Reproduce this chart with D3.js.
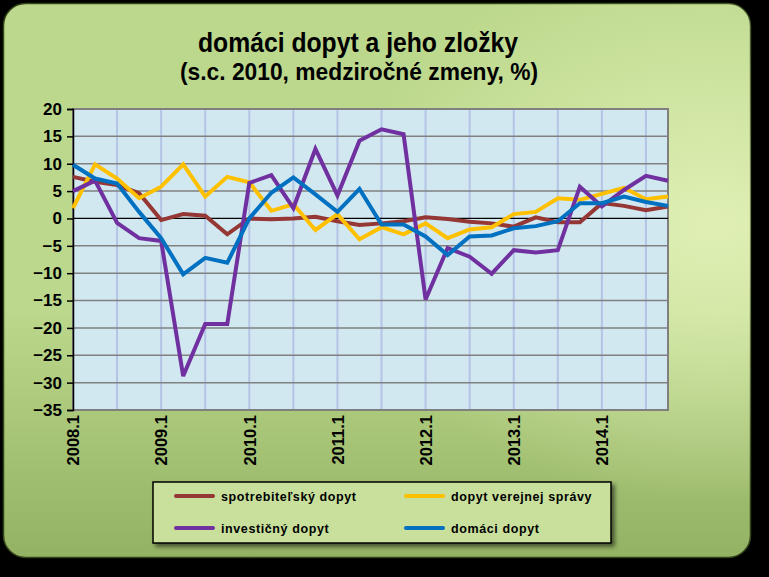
<!DOCTYPE html>
<html><head><meta charset="utf-8">
<script src="https://cdn.jsdelivr.net/npm/d3@7"></script>
<style>body{margin:0;background:#000;}svg{display:block;}</style>
</head><body>
<svg id="c" width="769" height="577"></svg>
<script>
const quarters = ["2008.1","2008.2","2008.3","2008.4","2009.1","2009.2","2009.3","2009.4","2010.1","2010.2","2010.3","2010.4","2011.1","2011.2","2011.3","2011.4","2012.1","2012.2","2012.3","2012.4","2013.1","2013.2","2013.3","2013.4","2014.1","2014.2","2014.3","2014.4"];
const spotrebitelsky = [7.6,6.7,6.1,4.6,-0.3,0.8,0.5,-2.9,0.0,-0.15,0.0,0.3,-0.5,-1.2,-0.9,-0.5,0.2,-0.1,-0.6,-0.9,-1.5,0.2,-0.7,-0.7,2.8,2.3,1.5,2.2];
const verejnejSpravy = [1.9,9.9,7.3,3.7,5.8,9.9,4.0,7.6,6.6,1.4,2.6,-2.1,0.8,-3.8,-1.6,-2.9,-0.9,-3.6,-2.0,-1.6,0.8,1.2,3.7,3.4,4.5,5.6,3.5,4.0];
const investicny = [5.0,6.9,-0.8,-3.6,-4.1,-28.8,-19.3,-19.3,6.5,7.9,1.9,12.7,4.2,14.2,16.3,15.4,-14.8,-5.4,-7.0,-10.1,-5.8,-6.2,-5.8,5.8,2.2,5.2,7.8,6.9];
const domaci = [9.8,7.3,6.4,1.2,-3.6,-10.2,-7.2,-8.1,0.0,4.7,7.5,4.4,1.2,5.4,-1.1,-1.1,-3.3,-6.7,-3.3,-3.1,-1.8,-1.4,-0.5,2.8,2.8,4.0,3.0,2.3];
const yTicks = [20,15,10,5,0,-5,-10,-15,-20,-25,-30,-35];
const xLabels = ["2008.1","2009.1","2010.1","2011.1","2012.1","2013.1","2014.1"];
const seriesNames = ["spotrebiteľský dopyt","dopyt verejnej správy","investičný dopyt","domáci dopyt"];
const seriesColors = ["#953735","#ffc000","#7030a0","#0070c0"];
const seriesData = [spotrebitelsky, verejnejSpravy, investicny, domaci];

const svg = d3.select("#c");
const defs = svg.append("defs");
const g1 = defs.append("linearGradient").attr("id","bg").attr("x1",0).attr("y1",0).attr("x2",0).attr("y2",1);
g1.append("stop").attr("offset","0%").attr("stop-color","#bcd88c");
g1.append("stop").attr("offset","55%").attr("stop-color","#bcd88c");
g1.append("stop").attr("offset","100%").attr("stop-color","#93b263");
const g2 = defs.append("radialGradient").attr("id","glow").attr("cx",0.95).attr("cy",0.4).attr("r",0.5);
g2.append("stop").attr("offset","0%").attr("stop-color","#e6f4bc").attr("stop-opacity",0.85);
g2.append("stop").attr("offset","100%").attr("stop-color","#e6f4bc").attr("stop-opacity",0);
const f = defs.append("filter").attr("id","sh").attr("x","-10%").attr("y","-10%").attr("width","130%").attr("height","140%");
f.append("feDropShadow").attr("dx",3).attr("dy",3).attr("stdDeviation",2).attr("flood-color","#000").attr("flood-opacity",0.55);

svg.append("rect").attr("width",769).attr("height",577).attr("fill","#000");
svg.append("rect").attr("x",3.5).attr("y",3.5).attr("width",747).attr("height",554).attr("rx",22)
  .attr("fill","url(#bg)").attr("stroke","#33441a").attr("stroke-width",1.5);
svg.append("rect").attr("x",3.5).attr("y",3.5).attr("width",747).attr("height",554).attr("rx",22)
  .attr("fill","url(#glow)");

const font = "'Liberation Sans Narrow','Arial Narrow','Liberation Sans',Arial,sans-serif";
svg.append("text").attr("x",358).attr("y",52).attr("text-anchor","middle")
  .attr("font-family",font).attr("font-weight","bold").attr("font-size",28).attr("fill","#000")
  .attr("textLength",320).attr("lengthAdjust","spacingAndGlyphs")
  .text("domáci dopyt a jeho zložky");
svg.append("text").attr("x",359).attr("y",80).attr("text-anchor","middle")
  .attr("font-family",font).attr("font-weight","bold").attr("font-size",24).attr("fill","#000")
  .attr("textLength",358).attr("lengthAdjust","spacingAndGlyphs")
  .text("(s.c. 2010, medziročné zmeny, %)");

const L = 73, R = 668, T = 109, B = 410;
const x = d3.scalePoint().domain(quarters).range([L,R]);
const y = d3.scaleLinear().domain([-35,20]).range([B,T]);

svg.append("rect").attr("x",L).attr("y",T).attr("width",R-L).attr("height",B-T).attr("fill","#d2e8f0");

svg.append("g").selectAll("line").data(quarters.filter((q,i)=>i>0 && i%2===0))
  .join("line").attr("x1",d=>x(d)).attr("x2",d=>x(d)).attr("y1",T).attr("y2",B)
  .attr("stroke","#b4c4e6").attr("stroke-width",2);
svg.append("g").selectAll("line").data(yTicks.filter(v=>v!==0 && v!==-35))
  .join("line").attr("x1",L).attr("x2",R).attr("y1",d=>y(d)).attr("y2",d=>y(d))
  .attr("stroke","#808080").attr("stroke-width",1.5);
svg.append("rect").attr("x",L).attr("y",T).attr("width",R-L).attr("height",B-T)
  .attr("fill","none").attr("stroke","#808080").attr("stroke-width",2);
svg.append("line").attr("x1",L).attr("x2",R).attr("y1",y(0)).attr("y2",y(0)).attr("stroke","#000").attr("stroke-width",1.3);

const yAxis = d3.axisLeft(y).tickValues(yTicks).tickSize(6).tickPadding(5).tickFormat(d3.format("d"));
const ya = svg.append("g").attr("transform",`translate(${L},0)`).call(yAxis);
ya.select(".domain").attr("stroke","#000").attr("stroke-width",1.5);
ya.selectAll(".tick line").attr("stroke","#000").attr("stroke-width",1.5);
ya.selectAll("text").attr("font-family","'Liberation Sans',Arial,sans-serif").attr("font-weight","bold").attr("font-size",17).attr("fill","#000");

const xAxis = d3.axisBottom(x).tickValues(xLabels).tickSize(0).tickPadding(0);
const xa = svg.append("g").attr("transform",`translate(0,${B})`).call(xAxis);
xa.select(".domain").remove();
xa.selectAll("text").attr("font-family","'Liberation Sans',Arial,sans-serif").attr("font-weight","bold").attr("font-size",16.5).attr("fill","#000")
  .attr("transform","rotate(-90)").attr("text-anchor","end").attr("x",-5).attr("y",0).attr("dy","0.35em");

const line = d3.line().x((d,i)=>x(quarters[i])).y(d=>y(d));
seriesData.forEach((s,k)=>{
  svg.append("path").datum(s).attr("d",line).attr("fill","none")
    .attr("stroke",seriesColors[k]).attr("stroke-width",4).attr("stroke-linejoin","miter").attr("stroke-miterlimit",3);
});

const lg = svg.append("g");
lg.append("rect").attr("x",153).attr("y",482).attr("width",458).attr("height",61)
  .attr("fill","#c8e09c").attr("stroke","#000").attr("stroke-width",1.5).attr("filter","url(#sh)");
const lpos = [[176,496],[406,496],[176,528],[406,528]];
seriesNames.forEach((n,k)=>{
  const [lx,ly] = lpos[k];
  lg.append("line").attr("x1",lx).attr("x2",lx+37).attr("y1",ly).attr("y2",ly)
    .attr("stroke",seriesColors[k]).attr("stroke-width",4).attr("stroke-linecap","round");
  lg.append("text").attr("x",lx+45).attr("y",ly+4.5).attr("font-family","'Liberation Sans',Arial,sans-serif")
    .attr("font-weight","bold").attr("font-size",12.5).attr("letter-spacing",0.6).attr("fill","#000").text(n);
});
</script>
</body></html>
